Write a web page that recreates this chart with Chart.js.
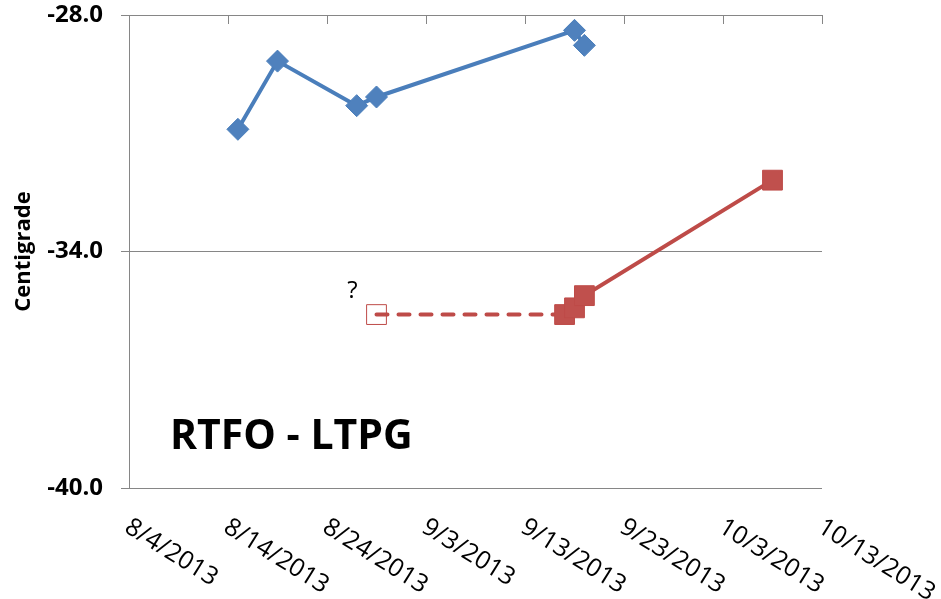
<!DOCTYPE html>
<html>
<head>
<meta charset="utf-8">
<script src="https://cdn.jsdelivr.net/npm/chart.js@4/dist/chart.umd.min.js"></script>
<style>
  body { margin: 0; background: #fff; }
  #wrap { width: 941px; height: 599px; }
</style>
</head>
<body>
<div id="wrap"><canvas id="tempChart"></canvas></div>
<script>
// dates are m/d/yyyy, temperatures in Centigrade
const tickDates = ['8/4/2013', '8/14/2013', '8/24/2013', '9/3/2013', '9/13/2013', '9/23/2013', '10/3/2013', '10/13/2013'];
const yTicks = [-40.0, -34.0, -28.0];

const upperDates = ['8/15/2013', '8/19/2013', '8/27/2013', '8/29/2013', '9/18/2013', '9/19/2013'];
const upperTemps = [-30.90, -29.17, -30.30, -30.08, -28.39, -28.77];

const lowerDates = ['9/17/2013', '9/18/2013', '9/19/2013', '10/8/2013'];
const lowerTemps = [-35.60, -35.43, -35.12, -32.19];

// unknown reading, joined to the first real one with a dashed line
const guessDates = ['8/29/2013', '9/17/2013'];
const guessTemps = [-35.60, -35.60];

const chartTitle = 'RTFO - LTPG';
const GRID = '#868686';
const FONT = "'Open Sans', 'DejaVu Sans', sans-serif";

function dayOf(s) {
  const p = s.split('/').map(Number);
  const t0 = Date.UTC(2013, 7, 4);
  return (Date.UTC(p[2], p[0] - 1, p[1]) - t0) / 86400000;
}

function toPoints(dates, temps) {
  return dates.map((d, i) => ({ x: dayOf(d), y: temps[i] }));
}

const extras = {
  id: 'extras',
  afterDraw(chart) {
    const ctx = chart.ctx;
    const xs = chart.scales.x, ys = chart.scales.y;
    const area = chart.chartArea;
    ctx.save();

    // tick marks hang down from the top line
    ctx.strokeStyle = GRID;
    ctx.lineWidth = 1;
    tickDates.forEach(d => {
      const x = Math.round(xs.getPixelForValue(dayOf(d))) + 0.5;
      ctx.beginPath();
      ctx.moveTo(x, Math.round(area.top));
      ctx.lineTo(x, Math.round(area.top) + 9);
      ctx.stroke();
    });

    // slanted date labels under the plot
    ctx.fillStyle = '#000';
    ctx.font = '25px ' + FONT;
    ctx.textAlign = 'left';
    ctx.textBaseline = 'middle';
    tickDates.forEach(d => {
      const x = xs.getPixelForValue(dayOf(d));
      ctx.save();
      ctx.translate(x - 2, area.bottom + 37);
      ctx.rotate(32 * Math.PI / 180);
      ctx.fillText(d, 0, 0);
      ctx.restore();
    });

    // question mark beside the open square
    const qx = xs.getPixelForValue(dayOf(guessDates[0]));
    const qy = ys.getPixelForValue(guessTemps[0]);
    ctx.font = '24px ' + FONT;
    ctx.textAlign = 'center';
    ctx.fillText('?', qx - 24, qy - 23);

    // big label inside the plot
    ctx.font = 'bold 41px ' + FONT;
    ctx.textAlign = 'left';
    ctx.textBaseline = 'alphabetic';
    ctx.fillText(chartTitle, 170, 449);
    ctx.restore();
  }
};

new Chart(document.getElementById('tempChart'), {
  type: 'line',
  data: {
    datasets: [{
      data: toPoints(upperDates, upperTemps),
      borderColor: '#4A7EBB',
      backgroundColor: '#4F81BD',
      borderWidth: 4,
      pointStyle: 'rectRot',
      pointRadius: 11,
      pointBorderWidth: 1,
      pointBorderColor: '#4A7EBB',
      pointBackgroundColor: '#4F81BD',
      order: 1
    }, {
      data: toPoints(lowerDates, lowerTemps),
      borderColor: '#BE4B48',
      borderWidth: 4,
      pointStyle: 'rect',
      pointRadius: 14,
      pointBorderWidth: 1,
      pointBorderColor: '#BE4B48',
      pointBackgroundColor: '#C0504D',
      order: 2
    }, {
      data: toPoints(guessDates, guessTemps),
      borderColor: '#BE4B48',
      borderWidth: 4,
      borderDash: [11, 11],
      borderCapStyle: 'round',
      pointStyle: 'rect',
      pointRadius: [14, 0],
      pointBorderWidth: 1,
      pointBorderColor: '#BE4B48',
      pointBackgroundColor: 'rgba(0,0,0,0)',
      order: 3
    }]
  },
  options: {
    responsive: true,
    maintainAspectRatio: false,
    animation: false,
    layout: { padding: { top: 15, right: 119, left: 0, bottom: 0 } },
    elements: { line: { tension: 0 } },
    plugins: {
      legend: { display: false },
      tooltip: { enabled: false }
    },
    scales: {
      x: {
        type: 'linear',
        min: dayOf(tickDates[0]),
        max: dayOf(tickDates[tickDates.length - 1]),
        grid: { display: false },
        border: { display: false },
        ticks: { display: false },
        afterFit: s => {
          s.height = 111;
          s.paddingLeft = 0;
          s.paddingRight = 0;
        }
      },
      y: {
        min: yTicks[0],
        max: yTicks[yTicks.length - 1],
        afterBuildTicks: s => { s.ticks = yTicks.map(v => ({ value: v })); },
        ticks: {
          callback: v => v.toFixed(1),
          color: '#000',
          font: { family: FONT, size: 24, weight: 'bold' },
          padding: 18
        },
        grid: { color: GRID, tickLength: 8 },
        border: { display: true, color: GRID },
        title: {
          display: true,
          text: 'Centigrade',
          color: '#000',
          font: { family: FONT, size: 22, weight: 'bold' },
          padding: { top: 11, bottom: 0 }
        },
        afterFit: s => {
          s.width = 129;
          s.paddingTop = 0;
          s.paddingBottom = 0;
        }
      }
    }
  },
  plugins: [extras]
});
</script>
</body>
</html>
